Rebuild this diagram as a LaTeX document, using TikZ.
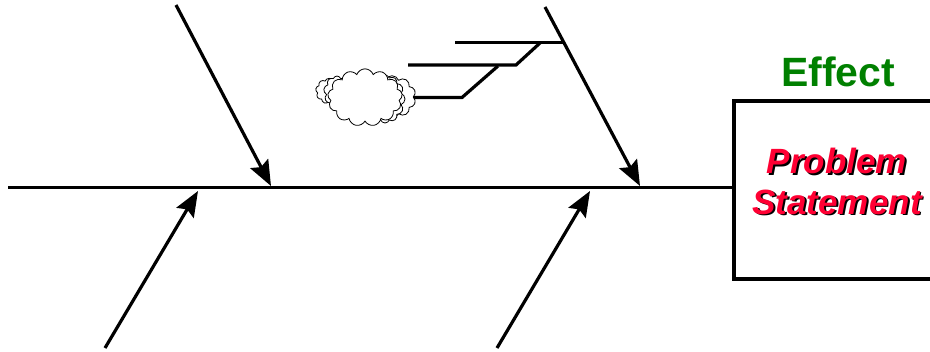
\documentclass[tikz,border=0pt]{standalone}
\usepackage{fontspec}
\setmainfont{Liberation Sans}
\usepackage{xcolor}
\usetikzlibrary{arrows.meta,positioning,calc,shapes.symbols}
\definecolor{effectgreen}{RGB}{0,128,0}
\definecolor{problemred}{RGB}{255,0,51}
\tikzset{
	bone/.style={-{Stealth[length=19pt,width=15pt,inset=3pt]}, line width=2.4pt},
	twig/.style={line width=2.4pt},
	puff/.style={draw, cloud, fill=white, line width=0.6pt, inner sep=0pt, cloud puff arc=140},
	problemtext/.style={font=\fontsize{26.3}{30}\selectfont\bfseries\itshape},
}

\begin{document}
\begin{tikzpicture}[x=0.75pt, y=-0.75pt]
	\useasboundingbox (0,0) rectangle (930,351);
	
	%% -- Effect box
	\node[draw, line width=2.4pt, anchor=north west, minimum width=150pt, minimum height=133.5pt,
	inner sep=0pt, outer sep=0pt] (box) at (734,101) {};
	\node[font=\fontsize{30.7}{33}\selectfont\bfseries, text=effectgreen] (effect) at (838,72) {Effect};
	
	%% -- Problem statement, shadow first
	\node[problemtext, text=black] (s1) at (838.8,162.8) {Problem};
	\node[problemtext, text=black] (s2) at (838.8,203.8) {Statement};
	\node[problemtext, text=problemred] (p1) at (837,161) {Problem};
	\node[problemtext, text=problemred] (p2) at (837,202) {Statement};
	
	%% -- Spine
	\coordinate (tail) at (8,187.5);
	\draw[line width=2.6pt] (tail) -- (tail -| box.west);
	
	%% -- Main bones
	\coordinate (a1) at (176,5);
	\coordinate (a2) at (271,186);
	\coordinate (b1) at (545,7);
	\coordinate (b2) at (640,186);
	\coordinate (c1) at (105,348);
	\coordinate (c2) at (198,191);
	\coordinate (d1) at (497,348);
	\coordinate (d2) at (590,191);
	\draw[bone] (a1) -- (a2);
	\draw[bone] (b1) -- (b2);
	\draw[bone] (c1) -- (c2);
	\draw[bone] (d1) -- (d2);
	
	%% -- Small branches
	\coordinate (t1) at (455,42.5);
	\coordinate (t2) at (563,42.5);
	\coordinate (t3) at (408,65);
	\coordinate (t4) at (516,65);
	\coordinate (t5) at (540,43);
	\coordinate (t6) at (462,97.5);
	\coordinate (t7) at (498,66);
	\draw[twig] (t1) -- (t2);
	\draw[twig] (t3) -- (t4) -- (t5);
	
	%% -- Cloud
	\node[puff, cloud puffs=9, minimum width=20pt, minimum height=19pt] (cleft) at (329,91) {};
	\node[puff, cloud puffs=9, minimum width=20pt, minimum height=24pt] (cleftb) at (337,92) {};
	\node[puff, cloud puffs=10, minimum width=36pt, minimum height=32pt] (cright) at (392,97) {};
	\node[puff, cloud puffs=12, minimum width=30pt, minimum height=36pt] (cmid) at (385,99) {};
	\node[puff, cloud puffs=13, minimum width=56pt, minimum height=43pt] (cfront) at (365,97.5) {};
	\draw[twig] (cright.east |- t6) -- (t6) -- (t7);
\end{tikzpicture}
\end{document}
